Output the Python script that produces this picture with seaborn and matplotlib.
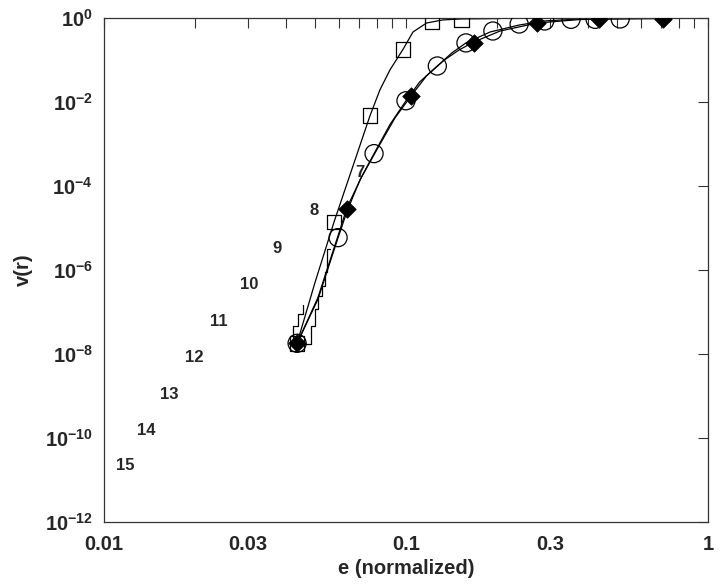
import numpy as np
import pandas as pd
import matplotlib
matplotlib.use("Agg")
import matplotlib.pyplot as plt
import seaborn as sns
from matplotlib.ticker import FixedLocator, FixedFormatter, NullFormatter

# ---- data ----
sq_x = [0.0436, 0.0578, 0.0760, 0.0978, 0.122, 0.153]
sq_y = [1.8e-8, 1.4e-5, 4.7e-3, 0.18, 0.80, 0.93]
sq_line_x = [0.0436, 0.0500, 0.0578, 0.0760, 0.0820, 0.0885, 0.0978, 0.1055, 0.117, 0.1326, 0.153, 0.205]
sq_line_y = [1.8e-8, 5.1e-7, 1.4e-5, 4.7e-3, 0.0195, 0.058, 0.18, 0.465, 0.76, 0.90, 0.95, 0.97]

ci_x = [0.0436, 0.0596, 0.0784, 0.100, 0.127, 0.158, 0.194, 0.237, 0.288, 0.352, 0.423, 0.512]
ci_y = [1.8e-8, 5.9e-6, 5.9e-4, 0.0107, 0.072, 0.255, 0.49, 0.72, 0.85, 0.93, 0.93, 0.95]
ci_line_x = [0.0436, 0.0511, 0.0596, 0.0638, 0.0704, 0.0784, 0.0885, 0.100, 0.111, 0.127, 0.142, 0.158, 0.190, 0.237, 0.288, 0.377, 0.512]
ci_line_y = [1.8e-8, 2.0e-7, 5.9e-6, 2.5e-5, 1.4e-4, 5.9e-4, 2.9e-3, 0.0107, 0.030, 0.072, 0.148, 0.255, 0.465, 0.68, 0.85, 0.95, 0.98]

di_x = [0.0436, 0.0638, 0.104, 0.168, 0.272, 0.436, 0.709]
di_y = [1.8e-8, 2.9e-5, 0.014, 0.255, 0.76, 0.95, 0.97]
di_line_x = [0.0436, 0.0511, 0.0605, 0.0638, 0.0715, 0.0808, 0.092, 0.104, 0.117, 0.134, 0.150, 0.168, 0.205, 0.272, 0.377, 0.709]
di_line_y = [1.8e-8, 2.2e-7, 9.2e-6, 3.1e-5, 1.7e-4, 8.2e-4, 4.2e-3, 0.014, 0.042, 0.10, 0.174, 0.27, 0.49, 0.76, 0.92, 0.97]

stair1_x = [0.0423, 0.0423, 0.0439, 0.0439, 0.0456, 0.0456]
stair1_y = [1.7e-8, 4.6e-8, 4.6e-8, 8.8e-8, 8.8e-8, 1.5e-7]
stair2_x = [0.0436, 0.0484, 0.0484, 0.0500, 0.0500, 0.0512, 0.0512, 0.0528, 0.0528, 0.0539, 0.0539, 0.0548, 0.0548, 0.0561]
stair2_y = [1.7e-8, 1.7e-8, 4.6e-8, 4.6e-8, 1.15e-7, 1.15e-7, 2.4e-7, 2.4e-7, 4.1e-7, 4.1e-7, 8.8e-7, 8.8e-7, 3.1e-6, 3.1e-6]

lab_text = ["7", "8", "9", "10", "11", "12", "13", "14", "15"]
lab_x = [0.0704, 0.0496, 0.0374, 0.0302, 0.0240, 0.0199, 0.0164, 0.0138, 0.0118]
lab_y = [2.1e-4, 2.6e-5, 3.3e-6, 4.6e-7, 6.0e-8, 8.3e-9, 1.1e-9, 1.5e-10, 2.2e-11]

xtick_labels = ["0.01", "0.03", "0.1", "0.3", "1"]
xtick_vals = [0.01, 0.03, 0.1, 0.3, 1.0]
ytick_vals = [1e-12, 1e-10, 1e-8, 1e-6, 1e-4, 1e-2, 1.0]
ytick_labels = [r"$10^{-12}$", r"$10^{-10}$", r"$10^{-8}$", r"$10^{-6}$", r"$10^{-4}$", r"$10^{-2}$", r"$10^{0}$"]

# ---- style ----
sns.set_theme(style="white")
plt.rcParams["font.family"] = ["Liberation Sans", "DejaVu Sans"]
plt.rcParams["font.weight"] = "bold"
plt.rcParams["mathtext.fontset"] = "custom"
plt.rcParams["mathtext.rm"] = "Liberation Sans:bold"
plt.rcParams["mathtext.it"] = "Liberation Sans:bold"
plt.rcParams["mathtext.bf"] = "Liberation Sans:bold"
plt.rcParams["mathtext.default"] = "rm"

fig = plt.figure(figsize=(7.2, 5.88), dpi=100)
ax = fig.add_axes([0.1444, 0.1122, 0.8389, 0.8572])
ax.set_xscale("log")
ax.set_yscale("log")

lw = 0.9
for xs, ys in [(sq_line_x, sq_line_y), (ci_line_x, ci_line_y), (di_line_x, di_line_y),
               (stair1_x, stair1_y), (stair2_x, stair2_y)]:
    sns.lineplot(x=xs, y=ys, ax=ax, color="black", linewidth=lw, sort=False, estimator=None)

sns.scatterplot(x=sq_x, y=sq_y, ax=ax, marker="s", s=110, facecolor="none",
                edgecolor="black", linewidth=0.9, zorder=3)
sns.scatterplot(x=ci_x, y=ci_y, ax=ax, marker="o", s=170, facecolor="none",
                edgecolor="black", linewidth=0.9, zorder=3)
sns.scatterplot(x=di_x, y=di_y, ax=ax, marker="D", s=80, color="black",
                edgecolor="black", linewidth=0.5, zorder=4)

for t, x, y in zip(lab_text, lab_x, lab_y):
    ax.text(x, y, t, ha="center", va="center", fontsize=12, fontweight="bold")

ax.set_xlim(0.01, 1.0)
ax.set_ylim(1e-12, 1.0)

minor_x = [m * 10.0 ** e for e in (-2, -1) for m in range(1, 10)] + [1.0]
ax.xaxis.set_major_locator(FixedLocator(xtick_vals))
ax.xaxis.set_major_formatter(FixedFormatter(xtick_labels))
ax.xaxis.set_minor_locator(FixedLocator(minor_x))
ax.xaxis.set_minor_formatter(NullFormatter())
ax.yaxis.set_major_locator(FixedLocator(ytick_vals))
ax.yaxis.set_major_formatter(FixedFormatter(ytick_labels))
ax.yaxis.set_minor_locator(FixedLocator([]))

ax.tick_params(axis="both", which="both", direction="in", top=True, right=True,
               length=7, width=0.8, color="#333333", labelsize=14.5, pad=8)
ax.tick_params(axis="x", which="both", pad=9)
for lbl in ax.get_xticklabels() + ax.get_yticklabels():
    lbl.set_fontweight("bold")
for s in ax.spines.values():
    s.set_color("#333333")
    s.set_linewidth(0.9)

ax.set_xlabel("e (normalized)", fontsize=14.5, fontweight="bold", labelpad=4)
ax.set_ylabel("v(r)", fontsize=14.5, fontweight="bold", labelpad=9)

fig.savefig("out.png", dpi=100)
